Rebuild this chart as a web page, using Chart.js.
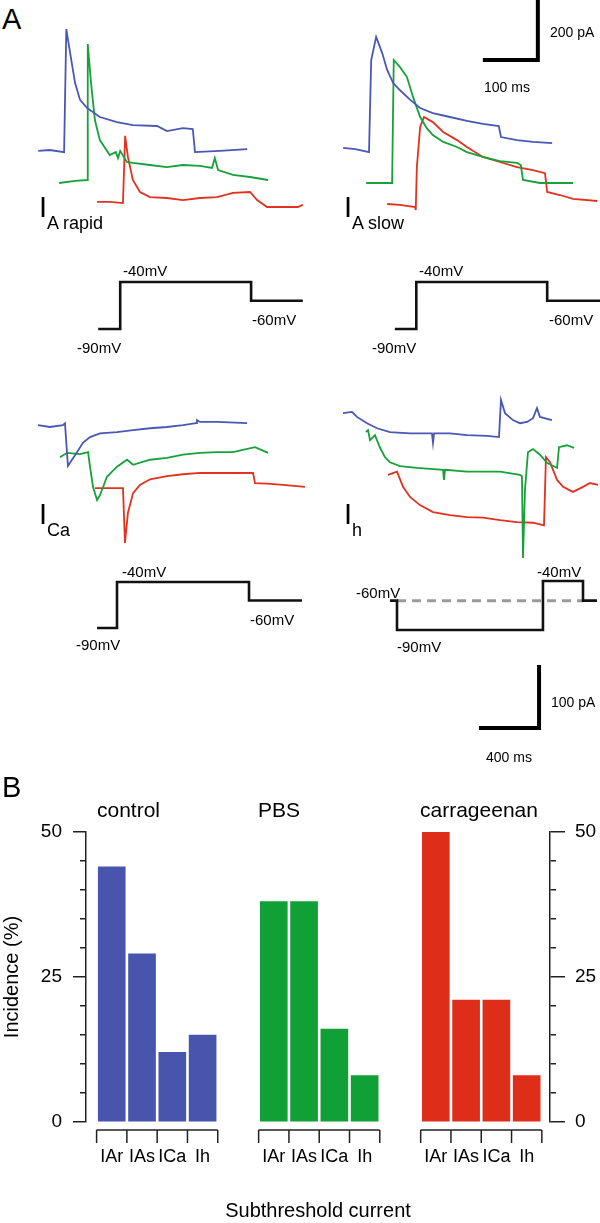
<!DOCTYPE html>
<html>
<head>
<meta charset="utf-8">
<script src="https://cdn.jsdelivr.net/npm/chart.js@4.4.1/dist/chart.umd.min.js"></script>
<style>
  body { margin: 0; width: 600px; height: 1223px; position: relative; overflow: hidden; background: #fff;
         font-family: "Liberation Sans", Arial, Helvetica, sans-serif; color: #000; }
  canvas { position: absolute; }
  .t { position: absolute; line-height: 1; white-space: nowrap; }
  .t span { vertical-align: -12px; font-size: 18px; }
  .mv { font-size: 15px; }
  .sb { font-size: 14px; }
</style>
</head>
<body>
<canvas id="rapid" width="275" height="345" style="left:30px;top:0px"></canvas>
<canvas id="slow" width="275" height="345" style="left:325px;top:0px"></canvas>
<canvas id="ca" width="275" height="360" style="left:30px;top:380px"></canvas>
<canvas id="ih" width="275" height="360" style="left:325px;top:380px"></canvas>
<canvas id="incidence" width="600" height="453" style="left:0px;top:770px"></canvas>

<div class="t" style="left:2px;top:5px;font-size:29px">A</div>
<div class="t" style="left:2px;top:773px;font-size:29px">B</div>

<div class="t sb" style="left:550px;top:25px">200 pA</div>
<div class="t sb" style="left:484px;top:80px">100 ms</div>
<div class="t sb" style="left:551px;top:695px">100 pA</div>
<div class="t sb" style="left:486px;top:750px">400 ms</div>

<div class="t" style="left:39px;top:193px;font-size:29px">I<span>A rapid</span></div>
<div class="t" style="left:344px;top:193px;font-size:29px">I<span>A slow</span></div>
<div class="t" style="left:39px;top:500px;font-size:29px">I<span>Ca</span></div>
<div class="t" style="left:344px;top:500px;font-size:29px">I<span>h</span></div>

<div class="t mv" style="left:123px;top:263px">-40mV</div>
<div class="t mv" style="left:252px;top:312px">-60mV</div>
<div class="t mv" style="left:77px;top:340px">-90mV</div>
<div class="t mv" style="left:419px;top:263px">-40mV</div>
<div class="t mv" style="left:549px;top:312px">-60mV</div>
<div class="t mv" style="left:372px;top:340px">-90mV</div>
<div class="t mv" style="left:122px;top:564px">-40mV</div>
<div class="t mv" style="left:250px;top:612px">-60mV</div>
<div class="t mv" style="left:76px;top:637px">-90mV</div>
<div class="t mv" style="left:356px;top:585px">-60mV</div>
<div class="t mv" style="left:537px;top:564px">-40mV</div>
<div class="t mv" style="left:397px;top:639px">-90mV</div>

<div class="t" style="left:97px;top:799px;font-size:21px">control</div>
<div class="t" style="left:258px;top:799px;font-size:21px">PBS</div>
<div class="t" style="left:420px;top:799px;font-size:21px">carrageenan</div>

<script>
// ---- panel A traces: [time (ms), current (pA)] as displayed (traces staggered) ----
const rapidBlue = [[15,647],[36,650],[62,643],[66,1053],[73,973],[82,873],[91,817],[104,790],[127,760],[158,743],[187,733],[231,730],[249,713],[278,723],[296,720],[300,643],[345,647],[395,653]];
const rapidGreen = [[53,540],[82,547],[104,550],[105,1003],[111,873],[118,750],[127,683],[145,633],[156,643],[160,623],[164,647],[176,610],[187,607],[218,600],[249,593],[278,600],[309,597],[331,590],[336,623],[342,583],[369,567],[400,560],[433,550]];
const rapidRed = [[122,477],[145,477],[169,473],[173,697],[178,627],[187,550],[200,510],[218,493],[249,490],[278,483],[309,490],[340,493],[369,507],[400,510],[413,483],[431,460],[460,460],[487,460],[496,467]];
const rapidVolt = [[124,-90],[164,-90],[164,-40],[402,-40],[402,-60],[496,-60]];

const slowBlue = [[33,657],[55,653],[80,643],[84,950],[93,1027],[104,973],[113,917],[124,873],[136,850],[155,817],[173,790],[196,773],[227,760],[258,747],[287,737],[316,730],[320,693],[349,683],[378,677],[413,673]];
const slowGreen = [[75,540],[100,540],[122,540],[125,950],[136,927],[149,893],[160,827],[173,760],[185,723],[196,700],[215,677],[240,660],[258,643],[287,627],[318,613],[349,607],[356,600],[360,550],[391,540],[451,540]];
const slowRed = [[113,470],[136,467],[164,460],[165,450],[167,593],[173,727],[180,760],[196,743],[215,710],[240,683],[258,660],[287,627],[318,610],[349,593],[378,583],[400,573],[404,510],[427,500],[451,487],[495,480]];
const slowVolt = [[127,-90],[166,-90],[166,-40],[404,-40],[404,-60],[500,-60]];
const scaleBarTop = [[287,950],[387,950],[387,1150]];      // 100 ms, 200 pA

const caBlue = [[53,357],[133,354],[220,357],[233,360],[253,292],[280,302],[313,314],[353,329],[400,338],[467,344],[580,346],[687,349],[800,352],[913,354],[1020,357],[1107,360],[1113,365],[1133,362],[1247,362],[1447,360]];
const caGreen = [[200,306],[247,313],[333,311],[387,314],[400,291],[420,259],[447,238],[467,246],[513,275],[580,291],[647,302],[687,294],[800,302],[913,305],[1020,310],[1133,313],[1247,314],[1353,314],[1500,322],[1587,313]];
const caRed = [[433,257],[533,257],[620,257],[633,170],[653,218],[687,249],[733,262],[800,271],[913,276],[1020,279],[1133,281],[1353,281],[1487,281],[1500,265],[1580,264],[1687,262],[1833,259]];
const caVolt = [[447,-90],[580,-90],[580,-40],[1460,-40],[1460,-60],[1813,-60]];

const ihBlue = [[120,376],[180,378],[213,370],[280,360],[347,352],[433,346],[567,344],[713,344],[720,329],[727,344],[833,344],[947,341],[1080,340],[1160,338],[1173,397],[1200,376],[1253,365],[1300,360],[1347,362],[1387,368],[1413,384],[1433,370],[1513,365]];
const ihGreen = [[273,346],[287,349],[300,333],[333,341],[367,321],[400,306],[433,298],[500,292],[613,289],[787,286],[793,270],[800,286],[947,283],[1167,283],[1300,278],[1313,276],[1320,146],[1333,254],[1353,314],[1387,319],[1433,310],[1480,297],[1547,289],[1560,322],[1613,325],[1660,321]];
const ihRed = [[420,278],[480,283],[520,259],[567,243],[633,230],[720,219],[833,214],[947,211],[1053,210],[1167,206],[1280,203],[1387,202],[1460,198],[1473,306],[1500,298],[1547,270],[1587,259],[1653,251],[1720,259],[1767,265],[1820,262]];
const ihVolt = [[433,-60],[480,-60],[480,-90],[1453,-90],[1453,-40],[1720,-40],[1720,-60],[1813,-60]];
const ihHolding = [[480,-60],[1720,-60]];
const scaleBarBottom = [[1027,-124],[1427,-124],[1427,-24]]; // 400 ms, 100 pA

// ---- panel B: incidence (%) ----
const currents = ['IAr', 'IAs', 'ICa', 'Ih'];
const groups = ['control', 'PBS', 'carrageenan'];
const controlPct = [44, 29, 12, 15];
const pbsPct = [38, 38, 16, 8];
const carrageenanPct = [50, 21, 21, 8];
const majorTicks = [0, 25, 50];

const BLUE = '#4957b5', GREEN = '#17a13a', RED = '#e1321f';
const BAR_COLORS = ['#4755ad', '#10a035', '#de2e19'];
const GROUP_STEP = 5.35;   // spacing between groups on the x axis
const FONT = '"Liberation Sans", Arial, Helvetica, sans-serif';

function pts(arr) {
    return arr.map(p => ({ x: p[0], y: p[1] }));
}

function trace(arr, color) {
    return { data: pts(arr), borderColor: color, borderWidth: 1.8, pointRadius: 0, yAxisID: 'yI', order: 2 };
}

function volt(arr, extra) {
    return Object.assign({ data: pts(arr), borderColor: '#111', borderWidth: 2.6, pointRadius: 0,
        yAxisID: 'yV', order: 1, borderJoinStyle: 'miter' }, extra || {});
}

function scaleBar(arr) {
    return { data: pts(arr), borderColor: '#000', borderWidth: 4, pointRadius: 0, yAxisID: 'yI',
        order: 1, borderJoinStyle: 'miter', borderCapStyle: 'butt' };
}

function panel(id, xMax, iRange, vRange, datasets) {
    new Chart(document.getElementById(id), {
        type: 'line',
        data: { datasets: datasets },
        options: {
            responsive: false,
            animation: false,
            events: [],
            layout: { padding: 0 },
            plugins: { legend: { display: false }, tooltip: { enabled: false } },
            scales: {
                x: { type: 'linear', display: false, min: 0, max: xMax },
                yI: { type: 'linear', display: false, min: iRange[0], max: iRange[1] },
                yV: { type: 'linear', display: false, min: vRange[0], max: vRange[1] }
            }
        }
    });
}

panel('rapid', 500, [0, 1150], [-107, 260], [
    trace(rapidBlue, BLUE), trace(rapidGreen, GREEN), trace(rapidRed, RED), volt(rapidVolt)
]);
panel('slow', 500, [0, 1150], [-107, 260], [
    trace(slowBlue, BLUE), trace(slowGreen, GREEN), trace(slowRed, RED), volt(slowVolt), scaleBar(scaleBarTop)
]);
panel('ca', 1833.3, [-142.9, 428.6], [-211.7, 179.6], [
    trace(caBlue, BLUE), trace(caGreen, GREEN), trace(caRed, RED), volt(caVolt)
]);
panel('ih', 1833.3, [-142.9, 428.6], [-202.2, 165.1], [
    trace(ihBlue, BLUE), trace(ihGreen, GREEN), trace(ihRed, RED), volt(ihVolt),
    volt(ihHolding, { borderColor: '#9a9a9a', borderWidth: 3, borderDash: [9, 6], order: 3 }),
    scaleBar(scaleBarBottom)
]);

// bracket under each group, with a tick at every category boundary
const bracketPlugin = {
    id: 'brackets',
    afterDraw(chart) {
        const { ctx, chartArea, scales } = chart;
        const x = scales.x;
        const y0 = chartArea.bottom + 8;
        ctx.save();
        ctx.strokeStyle = '#222';
        ctx.lineWidth = 1.5;
        groups.forEach((g, gi) => {
            const edges = [];
            for (let k = 0; k <= currents.length; k++) {
                edges.push(x.getPixelForValue(gi * GROUP_STEP + k - 0.5));
            }
            ctx.beginPath();
            ctx.moveTo(edges[0], y0);
            ctx.lineTo(edges[edges.length - 1], y0);
            edges.forEach(px => { ctx.moveTo(px, y0); ctx.lineTo(px, y0 + 13); });
            ctx.stroke();
        });
        ctx.restore();
    }
};

const groupValues = [controlPct, pbsPct, carrageenanPct];
const tickFont = { family: FONT, size: 19 };

new Chart(document.getElementById('incidence'), {
    type: 'bar',
    data: {
        datasets: groupValues.map((vals, gi) => ({
            label: groups[gi],
            data: vals.map((v, i) => ({ x: gi * GROUP_STEP + i, y: v })),
            backgroundColor: BAR_COLORS[gi],
            barThickness: 27,
            grouped: false,
            yAxisID: 'yLm'
        }))
    },
    options: {
        responsive: false,
        animation: false,
        events: [],
        layout: { padding: { top: 62, left: 0, right: 0, bottom: 0 } },
        plugins: { legend: { display: false }, tooltip: { enabled: false } },
        scales: {
            x: {
                type: 'linear',
                offset: false,
                min: -0.85,
                max: 14.47,
                afterBuildTicks(scale) {
                    const t = [];
                    groups.forEach((g, gi) => currents.forEach((c, i) => t.push({ value: gi * GROUP_STEP + i })));
                    scale.ticks = t;
                },
                ticks: {
                    autoSkip: false, maxRotation: 0, padding: 24, color: '#000',
                    font: { family: FONT, size: 18 },
                    callback: (v, i) => currents[i % currents.length]
                },
                grid: { display: false, drawTicks: false, offset: false },
                border: { display: false },
                title: { display: true, text: 'Subthreshold current', color: '#000',
                         font: { family: FONT, size: 20 }, padding: 0 },
                afterFit(scale) { scale.height = 101; }
            },
            yL: {
                position: 'left', weight: 1, min: 0, max: 50,
                afterBuildTicks(scale) { scale.ticks = majorTicks.map(v => ({ value: v })); },
                ticks: { color: '#000', font: tickFont, padding: 11 },
                grid: { drawOnChartArea: false, tickLength: 7, color: '#222', lineWidth: 1.5 },
                border: { display: false },
                title: { display: true, text: 'Incidence (%)', color: '#000',
                         font: { family: FONT, size: 20 }, padding: 0 },
                afterFit(scale) { scale.width = 80; }
            },
            yLm: {
                position: 'left', weight: 0, min: 0, max: 50,
                ticks: { display: false, stepSize: 5 },
                grid: { drawOnChartArea: false, tickLength: 6, color: '#222', lineWidth: 1.5 },
                border: { display: true, color: '#222', width: 1.5 },
                afterFit(scale) { scale.width = 6; }
            },
            yRm: {
                position: 'right', weight: 0, min: 0, max: 50,
                ticks: { display: false, stepSize: 5 },
                grid: { drawOnChartArea: false, tickLength: 6, color: '#222', lineWidth: 1.5 },
                border: { display: true, color: '#222', width: 1.5 },
                afterFit(scale) { scale.width = 6; }
            },
            yR: {
                position: 'right', weight: 1, min: 0, max: 50,
                afterBuildTicks(scale) { scale.ticks = majorTicks.map(v => ({ value: v })); },
                ticks: { color: '#000', font: tickFont, padding: 10 },
                grid: { drawOnChartArea: false, tickLength: 9, color: '#222', lineWidth: 1.5 },
                border: { display: false },
                afterFit(scale) { scale.width = 44; }
            }
        }
    },
    plugins: [bracketPlugin]
});
</script>
</body>
</html>
